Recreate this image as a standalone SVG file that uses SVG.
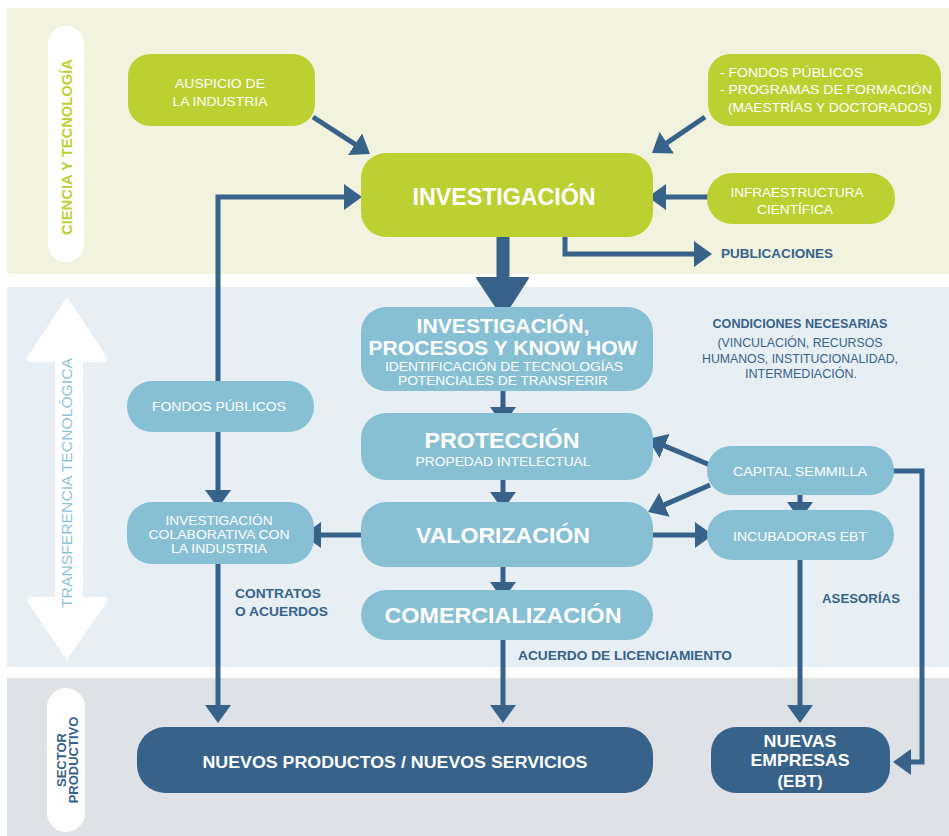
<svg xmlns="http://www.w3.org/2000/svg" width="949" height="836" viewBox="0 0 949 836">
<defs>
<style>
.t{font-family:"Liberation Sans",Arial,sans-serif;}
.wb{fill:#ffffff;font-weight:bold;text-anchor:middle;}
.ws{fill:#ffffff;font-size:13px;text-anchor:middle;}
.wx{fill:#ffffff;font-size:12px;text-anchor:middle;}
.wl{fill:#ffffff;font-size:13px;}
.db{fill:#37628a;font-size:13px;font-weight:bold;}
.dn{fill:#37628a;font-size:13px;}
.g{fill:#bdd031;}
.b{fill:#87c0d4;}
.d{fill:#37628a;}
.c{fill:none;stroke:#37628a;stroke-width:5;stroke-linejoin:miter;}
</style>
<marker id="ah" viewBox="0 0 18 26" refX="4" refY="13" markerWidth="18" markerHeight="26" markerUnits="userSpaceOnUse" orient="auto">
<path d="M0,0 L18,13 L0,26 Z" fill="#37628a"/>
</marker>
</defs>

<!-- bands -->
<rect x="7" y="8" width="942" height="266" fill="#f1f3df"/>
<rect x="7" y="287" width="942" height="380" fill="#e7eff5"/>
<rect x="7" y="678" width="942" height="158" fill="#dee1e6"/>

<!-- band labels -->
<g id="label-ciencia">
<rect x="48" y="26" width="36" height="236" rx="18" fill="#ffffff"/>
<text class="t" transform="translate(72,147) rotate(-90)" text-anchor="middle" font-size="14" font-weight="bold" fill="#bdd031" textLength="176" lengthAdjust="spacingAndGlyphs">CIENCIA Y TECNOLOGÍA</text>
</g>
<g id="label-transferencia">
<path d="M67,297 L106,356 Q109,362 103,362 L83,362 L83,597 L103,597 Q109,597 106,603 L67,660 L28,603 Q25,597 31,597 L55,597 L55,362 L31,362 Q25,362 28,356 Z" fill="#ffffff"/>
<text class="t" transform="translate(72,483) rotate(-90)" text-anchor="middle" font-size="15" fill="#8dc3d8" textLength="250" lengthAdjust="spacingAndGlyphs">TRANSFERENCIA TECNOLÓGICA</text>
</g>
<g id="label-sector">
<rect x="47" y="688" width="38" height="144" rx="19" fill="#ffffff"/>
<text class="t" transform="translate(66,760) rotate(-90)" text-anchor="middle" font-size="13" font-weight="bold" fill="#37628a">SECTOR</text>
<text class="t" transform="translate(78,760) rotate(-90)" text-anchor="middle" font-size="13" font-weight="bold" fill="#37628a">PRODUCTIVO</text>
</g>

<!-- connectors -->
<g id="connectors">
<path class="c" d="M313,117 L358.3,146.4" marker-end="url(#ah)"/>
<path class="c" d="M705,117 L663.6,145.1" marker-end="url(#ah)"/>
<path class="c" d="M710,197 L662,197" marker-end="url(#ah)"/>
<path class="c" d="M218,381 V197 H348" marker-end="url(#ah)"/>
<path class="c" d="M565,237 V254 H698" marker-end="url(#ah)"/>
<line x1="503" y1="238" x2="503" y2="282" stroke="#37628a" stroke-width="13" stroke-linecap="round"/>
<polygon points="477,278 528,278 503,317" fill="#37628a" stroke="#37628a" stroke-width="2" stroke-linejoin="round"/>
<path class="c" d="M503,390 V411" marker-end="url(#ah)"/>
<path class="c" d="M503,480 V496" marker-end="url(#ah)"/>
<path class="c" d="M503,567 V586" marker-end="url(#ah)"/>
<path class="c" d="M503,640 V709" marker-end="url(#ah)"/>
<path class="c" d="M218,431 V494" marker-end="url(#ah)"/>
<path class="c" d="M218,564 V709" marker-end="url(#ah)"/>
<path class="c" d="M362,535 H317" marker-end="url(#ah)"/>
<path class="c" d="M653,535 H699" marker-end="url(#ah)"/>
<path class="c" d="M710,465 L660.9,444.4" marker-end="url(#ah)"/>
<path class="c" d="M710,485 L660.8,506.4" marker-end="url(#ah)"/>
<path class="c" d="M800,495 V506" marker-end="url(#ah)"/>
<path class="c" d="M800,560 V709" marker-end="url(#ah)"/>
<path class="c" d="M885,471 H922 V762 H907" marker-end="url(#ah)"/>
</g>

<!-- connector labels -->
<text class="t db" x="721" y="258" textLength="112" lengthAdjust="spacingAndGlyphs">PUBLICACIONES</text>
<text class="t db" x="235" y="598" textLength="86" lengthAdjust="spacingAndGlyphs">CONTRATOS</text>
<text class="t db" x="235" y="616" textLength="93" lengthAdjust="spacingAndGlyphs">O ACUERDOS</text>
<text class="t db" x="518" y="660" textLength="214" lengthAdjust="spacingAndGlyphs">ACUERDO DE LICENCIAMIENTO</text>
<text class="t db" x="822" y="603" textLength="78" lengthAdjust="spacingAndGlyphs">ASESORÍAS</text>
<g id="condiciones">
<text class="t db" x="800" y="328" text-anchor="middle" textLength="175" lengthAdjust="spacingAndGlyphs">CONDICIONES NECESARIAS</text>
<text class="t dn" x="800" y="347" text-anchor="middle" textLength="165" lengthAdjust="spacingAndGlyphs">(VINCULACIÓN, RECURSOS</text>
<text class="t dn" x="800" y="363" text-anchor="middle" textLength="196" lengthAdjust="spacingAndGlyphs">HUMANOS, INSTITUCIONALIDAD,</text>
<text class="t dn" x="801" y="378" text-anchor="middle" textLength="112" lengthAdjust="spacingAndGlyphs">INTERMEDIACIÓN.</text>
</g>

<!-- nodes -->
<g id="auspicio">
<rect class="g" x="128" y="54" width="187" height="72" rx="22"/>
<text class="t ws" x="220" y="88" textLength="90" lengthAdjust="spacingAndGlyphs">AUSPICIO DE</text>
<text class="t ws" x="220" y="106" textLength="95" lengthAdjust="spacingAndGlyphs">LA INDUSTRIA</text>
</g>
<g id="fondos-formacion">
<rect class="g" x="708" y="54" width="233" height="72" rx="22"/>
<text class="t wl" x="720" y="77" textLength="143" lengthAdjust="spacingAndGlyphs">- FONDOS PÚBLICOS</text>
<text class="t wl" x="720" y="94" textLength="212" lengthAdjust="spacingAndGlyphs">- PROGRAMAS DE FORMACIÓN</text>
<text class="t wl" x="728" y="112" textLength="204" lengthAdjust="spacingAndGlyphs">(MAESTRÍAS Y DOCTORADOS)</text>
</g>
<g id="investigacion">
<rect class="g" x="361" y="153" width="292" height="84" rx="25"/>
<text class="t wb" x="504" y="205" font-size="24" textLength="183" lengthAdjust="spacingAndGlyphs">INVESTIGACIÓN</text>
</g>
<g id="infraestructura">
<rect class="g" x="707" y="173" width="188" height="51" rx="25"/>
<text class="t ws" x="797" y="197" textLength="133" lengthAdjust="spacingAndGlyphs">INFRAESTRUCTURA</text>
<text class="t ws" x="795" y="214" textLength="76" lengthAdjust="spacingAndGlyphs">CIENTÍFICA</text>
</g>
<g id="know-how">
<rect class="b" x="361" y="307" width="292" height="84" rx="25"/>
<text class="t wb" x="503" y="333" font-size="21" textLength="173" lengthAdjust="spacingAndGlyphs">INVESTIGACIÓN,</text>
<text class="t wb" x="503" y="355" font-size="21" textLength="269" lengthAdjust="spacingAndGlyphs">PROCESOS Y KNOW HOW</text>
<text class="t wx" x="504" y="371" textLength="238" lengthAdjust="spacingAndGlyphs">IDENTIFICACIÓN DE TECNOLOGÍAS</text>
<text class="t wx" x="503" y="385" textLength="210" lengthAdjust="spacingAndGlyphs">POTENCIALES DE TRANSFERIR</text>
</g>
<g id="proteccion">
<rect class="b" x="361" y="413" width="292" height="67" rx="25"/>
<text class="t wb" x="502" y="448" font-size="22" textLength="155" lengthAdjust="spacingAndGlyphs">PROTECCIÓN</text>
<text class="t ws" x="503" y="466" textLength="175" lengthAdjust="spacingAndGlyphs">PROPEDAD INTELECTUAL</text>
</g>
<g id="valorizacion">
<rect class="b" x="361" y="502" width="292" height="65" rx="25"/>
<text class="t wb" x="503" y="543" font-size="22" textLength="174" lengthAdjust="spacingAndGlyphs">VALORIZACIÓN</text>
</g>
<g id="comercializacion">
<rect class="b" x="361" y="590" width="292" height="50" rx="25"/>
<text class="t wb" x="503" y="623" font-size="22" textLength="237" lengthAdjust="spacingAndGlyphs">COMERCIALIZACIÓN</text>
</g>
<g id="fondos-publicos">
<rect class="b" x="127" y="381" width="187" height="51" rx="25"/>
<text class="t ws" x="219" y="411" textLength="134" lengthAdjust="spacingAndGlyphs">FONDOS PÚBLICOS</text>
</g>
<g id="colaborativa">
<rect class="b" x="127" y="502" width="187" height="62" rx="25"/>
<text class="t wx" x="219" y="525" textLength="107" lengthAdjust="spacingAndGlyphs">INVESTIGACIÓN</text>
<text class="t wx" x="219" y="539" textLength="141" lengthAdjust="spacingAndGlyphs">COLABORATIVA CON</text>
<text class="t wx" x="219" y="553" textLength="96" lengthAdjust="spacingAndGlyphs">LA INDUSTRIA</text>
</g>
<g id="capital">
<rect class="b" x="707" y="446" width="187" height="49" rx="24"/>
<text class="t ws" x="800" y="476" textLength="134" lengthAdjust="spacingAndGlyphs">CAPITAL SEMMILLA</text>
</g>
<g id="incubadoras">
<rect class="b" x="707" y="510" width="187" height="50" rx="25"/>
<text class="t ws" x="800" y="541" textLength="134" lengthAdjust="spacingAndGlyphs">INCUBADORAS EBT</text>
</g>
<g id="nuevos-productos">
<rect class="d" x="137" y="727" width="516" height="66" rx="28"/>
<text class="t wb" x="395" y="768" font-size="16" textLength="385" lengthAdjust="spacingAndGlyphs">NUEVOS PRODUCTOS / NUEVOS SERVICIOS</text>
</g>
<g id="nuevas-empresas">
<rect class="d" x="711" y="727" width="179" height="66" rx="25"/>
<text class="t wb" x="800" y="747" font-size="16" textLength="73" lengthAdjust="spacingAndGlyphs">NUEVAS</text>
<text class="t wb" x="800" y="766" font-size="16" textLength="99" lengthAdjust="spacingAndGlyphs">EMPRESAS</text>
<text class="t wb" x="800" y="787" font-size="16" textLength="45" lengthAdjust="spacingAndGlyphs">(EBT)</text>
</g>
</svg>
